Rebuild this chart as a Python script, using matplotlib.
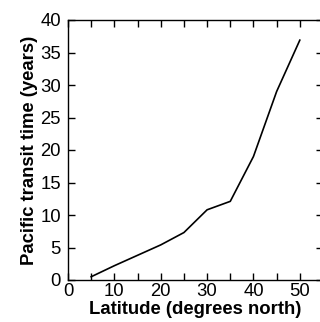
import matplotlib
matplotlib.use("Agg")
import matplotlib.pyplot as plt
from matplotlib.ticker import MultipleLocator

latitude = [5, 10, 15, 20, 25, 30, 35, 40, 45, 50]
transit_years = [0.5, 2.2, 3.8, 5.4, 7.3, 10.8, 12.1, 19.0, 29.0, 36.9]

plt.rcParams["font.family"] = ["Liberation Sans", "DejaVu Sans"]

fig = plt.figure(figsize=(3.2, 3.22), dpi=100)
ax = fig.add_axes([68 / 320, 42 / 322, 255 / 320, 260 / 322])
ax.plot(latitude, transit_years, color="black", linewidth=1.2)

ax.set_xlim(0, 55)
ax.set_ylim(0, 40)
ax.xaxis.set_major_locator(MultipleLocator(10))
ax.xaxis.set_minor_locator(MultipleLocator(5))
ax.yaxis.set_major_locator(MultipleLocator(5))
ax.tick_params(which="both", direction="in", top=True, right=True,
               labelsize=13.3, width=1, length=5)
ax.tick_params(axis="x", pad=2)
ax.tick_params(axis="y", pad=5)
for s in ax.spines.values():
    s.set_linewidth(1)

ax.set_xlabel("Latitude (degrees north)", fontsize=13.3, fontweight="bold", labelpad=1)
ax.set_ylabel("Pacific transit time (years)", fontsize=13.3, fontweight="bold", labelpad=2)

fig.savefig("out.png", dpi=100)
